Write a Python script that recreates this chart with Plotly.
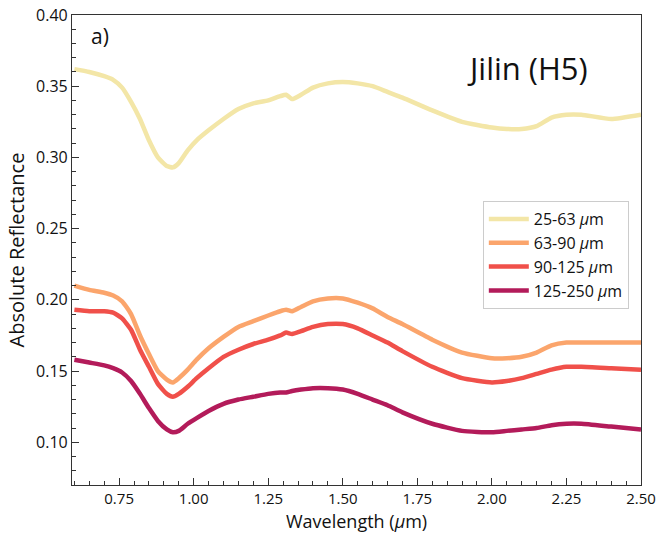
import plotly.graph_objects as go

wavelength = [0.60, 0.65, 0.70, 0.73, 0.76, 0.79, 0.82, 0.85, 0.88, 0.91, 0.93, 0.95, 0.98, 1.01,
              1.05, 1.10, 1.15, 1.20, 1.25, 1.29, 1.31, 1.33, 1.36, 1.40, 1.45, 1.50, 1.55, 1.60,
              1.65, 1.70, 1.80, 1.90, 2.00, 2.05, 2.10, 2.15, 2.20, 2.25, 2.30, 2.40, 2.50]

r_25_63 = [0.362, 0.360, 0.357, 0.3545, 0.349, 0.339, 0.327, 0.312, 0.300, 0.294, 0.293, 0.296, 0.305, 0.312,
           0.319, 0.327, 0.334, 0.338, 0.340, 0.343, 0.344, 0.341, 0.344, 0.349, 0.352, 0.353, 0.352, 0.350,
           0.346, 0.342, 0.333, 0.325, 0.321, 0.320, 0.320, 0.322, 0.328, 0.330, 0.330, 0.327, 0.330]

r_63_90 = [0.210, 0.207, 0.205, 0.203, 0.199, 0.190, 0.175, 0.162, 0.150, 0.144, 0.142, 0.145, 0.151, 0.158,
           0.166, 0.174, 0.181, 0.185, 0.189, 0.192, 0.193, 0.192, 0.195, 0.199, 0.201, 0.201, 0.198, 0.194,
           0.188, 0.183, 0.172, 0.163, 0.159, 0.159, 0.160, 0.163, 0.168, 0.170, 0.170, 0.170, 0.170]

r_90_125 = [0.193, 0.192, 0.192, 0.191, 0.187, 0.179, 0.165, 0.153, 0.141, 0.134, 0.132, 0.134, 0.139, 0.145,
            0.152, 0.160, 0.165, 0.169, 0.172, 0.175, 0.177, 0.176, 0.178, 0.181, 0.183, 0.183, 0.180, 0.175,
            0.170, 0.164, 0.153, 0.145, 0.142, 0.143, 0.145, 0.148, 0.151, 0.153, 0.153, 0.152, 0.151]

r_125_250 = [0.158, 0.156, 0.154, 0.152, 0.149, 0.143, 0.134, 0.124, 0.115, 0.109, 0.107, 0.108, 0.113, 0.117,
             0.122, 0.127, 0.130, 0.132, 0.134, 0.135, 0.135, 0.136, 0.137, 0.138, 0.138, 0.137, 0.134, 0.130,
             0.126, 0.121, 0.113, 0.108, 0.107, 0.108, 0.109, 0.110, 0.112, 0.113, 0.113, 0.111, 0.109]

series = [
    ("25-63 <i>μ</i>m", r_25_63, "#f3e6a7"),
    ("63-90 <i>μ</i>m", r_63_90, "#fba56c"),
    ("90-125 <i>μ</i>m", r_90_125, "#f0504a"),
    ("125-250 <i>μ</i>m", r_125_250, "#b31b5a"),
]

FONT = "Open Sans"

fig = go.Figure()
for name, vals, col in series:
    fig.add_trace(go.Scatter(x=wavelength, y=vals, mode="lines", name=name,
                             line=dict(color=col, width=4.5, shape="spline", smoothing=0.5)))

axis_common = dict(
    showgrid=False, zeroline=False, showline=True, linecolor="#333333", linewidth=1.2,
    mirror=True, ticks="inside", ticklen=7, tickwidth=1.2, tickcolor="#333333",
    automargin=False,
)

fig.update_xaxes(range=[0.592, 2.5], tick0=0.75, dtick=0.25, tickformat=".2f",
                 tickfont=dict(family=FONT, size=15, color="#111111"),
                 minor=dict(ticks="inside", ticklen=4, dtick=0.05, tickcolor="#333333"),
                 **axis_common)
fig.update_yaxes(range=[0.07, 0.40], tick0=0.10, dtick=0.05, tickformat=".2f",
                 tickfont=dict(family=FONT, size=16, color="#111111"),
                 minor=dict(ticks="inside", ticklen=4, dtick=0.01, tickcolor="#333333"),
                 title=dict(text="Absolute Reflectance", font=dict(family=FONT, size=20, color="#111111"),
                            standoff=6),
                 **axis_common)

# x-axis title placed as an annotation below the tick labels
fig.add_annotation(x=0.5, y=-0.0765, xref="paper", yref="paper", text="Wavelength (<i>μ</i>m)",
                   showarrow=False, xanchor="center", yanchor="middle", borderpad=0,
                   font=dict(family=FONT, size=18, color="#111111"))
fig.add_annotation(x=0.03, y=0.955, xref="paper", yref="paper", text="a)", showarrow=False,
                   xanchor="left", yanchor="middle", font=dict(family=FONT, size=21, color="#111111"))
fig.add_annotation(x=0.801, y=0.887, xref="paper", yref="paper", text="Jilin (H5)", showarrow=False,
                   xanchor="center", yanchor="middle", font=dict(family=FONT, size=31, color="#111111"))

fig.update_layout(
    width=660, height=534,
    margin=dict(l=72, r=19, t=15, b=49),
    paper_bgcolor="white", plot_bgcolor="white",
    showlegend=True,
    legend=dict(x=0.722, y=0.604, xanchor="left", yanchor="top",
                bgcolor="white", bordercolor="#cccccc", borderwidth=1,
                font=dict(family=FONT, size=16, color="#111111"),
                itemwidth=40),
)

fig.write_html("out.html")
